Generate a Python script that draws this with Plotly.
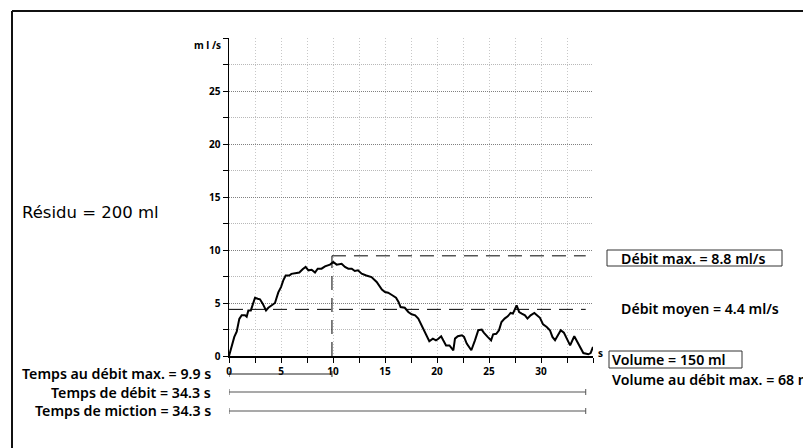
import plotly.graph_objects as go

# ---- data ----
time_s = [0, 0.26, 0.51, 0.74, 0.99, 1.22, 1.54, 1.7, 1.86, 2.1, 2.34, 2.5, 2.76, 2.98, 3.24, 3.56, 3.78, 4.1, 4.42, 4.74,
          5.0, 5.22, 5.45, 5.8, 6.0, 6.5, 6.76, 7.08, 7.37, 7.63, 7.95, 8.27, 8.53, 8.9, 9.23, 9.71, 10.03, 10.35, 10.6, 10.83,
          11.15, 11.47, 11.8, 12.1, 12.4, 12.76, 13.2, 13.7, 14.2, 14.7, 15.0, 15.3, 15.7, 16.06, 16.3, 16.5, 16.9, 17.24, 17.56, 17.9,
          18.2, 18.5, 18.75, 19.0, 19.26, 19.6, 19.9, 20.1, 20.4, 20.6, 20.87, 21.2, 21.57, 21.73, 22.0, 22.4, 22.6, 22.86, 23.3, 23.65,
          23.97, 24.3, 24.5, 24.87, 25.2, 25.4, 25.7, 25.96, 26.2, 26.5, 26.8, 27.08, 27.3, 27.66, 27.9, 28.15, 28.46, 28.7, 29.0, 29.36,
          29.7, 29.9, 30.2, 30.55, 30.86, 31.1, 31.35, 31.6, 31.9, 32.2, 32.47, 32.8, 33.2, 33.4, 33.75, 34.07, 34.55, 34.77, 35.0]
flow_mls = [0, 1.0, 1.8, 2.3, 3.5, 3.84, 3.84, 3.7, 4.3, 4.3, 5.1, 5.5, 5.4, 5.35, 4.94, 4.3, 4.55, 4.78, 5.0, 6.0,
            6.5, 7.14, 7.6, 7.6, 7.75, 7.83, 7.87, 8.18, 8.4, 8.08, 8.14, 7.87, 8.24, 8.24, 8.46, 8.62, 8.87, 8.62, 8.7, 8.7,
            8.4, 8.24, 8.24, 8.02, 8.08, 7.77, 7.6, 7.45, 6.98, 6.26, 6.04, 5.97, 5.73, 5.5, 5.1, 4.62, 4.55, 4.15, 3.93, 3.84,
            3.53, 2.9, 2.4, 1.8, 1.39, 1.64, 1.48, 1.6, 1.86, 1.48, 1.0, 1.0, 0.54, 1.64, 1.86, 1.95, 1.8, 1.17, 0.54, 1.48,
            2.43, 2.49, 2.2, 1.8, 1.48, 2.05, 2.1, 2.43, 3.2, 3.53, 3.74, 4.06, 4.0, 4.78, 4.15, 4.0, 3.84, 3.53, 3.84, 4.06,
            3.74, 3.6, 2.99, 2.74, 2.43, 1.8, 1.48, 1.86, 2.43, 2.2, 1.64, 1.0, 1.86, 1.48, 0.79, 0.28, 0.16, 0.28, 0.85]

x_ticks = [0, 5, 10, 15, 20, 25, 30]
y_ticks = [0, 5, 10, 15, 20, 25]

time_to_max = 9.9
flow_time = 34.3
voiding_time = 34.3
mean_flow = 4.4
max_marker_level = 9.45

label_max = "Débit max. = 8.8 ml/s"
label_mean = "Débit moyen = 4.4 ml/s"
label_volume = "Volume = 150 ml"
label_vol_max = "Volume au débit max. = 68 ml"
label_residu = "Résidu = 200 ml"
label_t_max = "Temps au débit max. = 9.9 s"
label_t_flow = "Temps de débit = 34.3 s"
label_t_void = "Temps de miction = 34.3 s"

FONT = "Noto Sans"
W, H = 803, 448
L, R, T, B = 229, 210, 38, 92
PW, PH = W - L - R, H - T - B


def xp(px):
    return (px - L) / PW


def yp(py):
    return (H - B - py) / PH


fig = go.Figure()
fig.add_trace(go.Scatter(x=time_s, y=flow_mls, mode="lines",
                         line=dict(color="black", width=2), hoverinfo="skip", cliponaxis=False))

shapes = []
dash = "14px,8px"
# mean flow dashed line
shapes.append(dict(type="line", xref="x", yref="y", x0=0, x1=flow_time, y0=mean_flow, y1=mean_flow,
                   line=dict(color="black", width=1, dash=dash)))
# max flow dashed markers
shapes.append(dict(type="line", xref="x", yref="y", x0=time_to_max, x1=flow_time, y0=max_marker_level, y1=max_marker_level,
                   line=dict(color="black", width=1, dash=dash)))
shapes.append(dict(type="line", xref="x", yref="y", x0=time_to_max, x1=time_to_max, y0=0, y1=max_marker_level,
                   line=dict(color="black", width=1, dash=dash)))

# time bars below axis
for val, py, col in [(time_to_max, 374, "#222"), (flow_time, 392, "#555"), (voiding_time, 411, "#555")]:
    shapes.append(dict(type="line", xref="x", yref="paper", x0=0, x1=val, y0=yp(py), y1=yp(py),
                       line=dict(color=col, width=1.2)))
    for xv in (0, val):
        shapes.append(dict(type="line", xref="x", yref="paper", x0=xv, x1=xv, y0=yp(py - 3), y1=yp(py + 3),
                           line=dict(color=col, width=1)))

# boxes on the right
shapes.append(dict(type="rect", xref="paper", yref="paper", x0=xp(607), x1=xp(782), y0=yp(266), y1=yp(250),
                   line=dict(color="#333", width=1)))
shapes.append(dict(type="rect", xref="paper", yref="paper", x0=xp(609), x1=xp(742), y0=yp(368), y1=yp(351),
                   line=dict(color="#333", width=1)))

# outer frame
shapes.append(dict(type="line", xref="paper", yref="paper", x0=xp(12), x1=xp(810), y0=yp(11), y1=yp(11),
                   line=dict(color="#111", width=2)))
shapes.append(dict(type="line", xref="paper", yref="paper", x0=xp(12), x1=xp(12), y0=yp(11), y1=yp(460),
                   line=dict(color="#111", width=2)))

ann = []
bold = dict(family=FONT, size=14.2, color="black", weight=600)
bold_left = dict(family=FONT, size=14.2, color="black", weight=600)


def add(text, px, py, xanchor="left", font=None):
    ann.append(dict(text=text, xref="paper", yref="paper", x=xp(px), y=yp(py), xanchor=xanchor, yanchor="middle",
                    showarrow=False, font=font or bold))


add(label_max, 619, 258)
add(label_mean, 619, 308)
add(label_volume, 610, 359)
add(label_vol_max, 610, 379)
add(label_t_max, 213, 373, "right", bold_left)
add(label_t_flow, 213, 392, "right", bold_left)
add(label_t_void, 213, 410, "right", bold_left)
add(label_residu, 20, 212, "left", dict(family="DejaVu Sans", size=16.5, color="black"))
add("m l /s", 223, 45, "right", dict(family=FONT, size=10, color="black", weight=700))
add("s", 596, 353, "left", dict(family=FONT, size=10, color="black", weight=700))

fig.update_layout(
    width=W, height=H, margin=dict(l=L, r=R, t=T, b=B, pad=0),
    paper_bgcolor="white", plot_bgcolor="white", showlegend=False,
    shapes=shapes, annotations=ann,
    xaxis=dict(range=[0, 35], tickvals=x_ticks, ticks="outside", ticklen=5, tickwidth=1, tickcolor="black",
               showline=True, linecolor="black", linewidth=1.5, zeroline=False,
               showgrid=True, gridcolor="#c8c8c8", griddash="1px,2px", gridwidth=1,
               minor=dict(dtick=2.5, tick0=0, ticks="outside", ticklen=5, tickcolor="black", showgrid=True,
                          gridcolor="#c8c8c8", griddash="1px,2px"),
               tickfont=dict(family=FONT, size=10, color="black", weight=700), fixedrange=True),
    yaxis=dict(range=[0, 30], tickvals=y_ticks, ticks="outside", ticklen=5, tickwidth=1, tickcolor="black",
               showline=True, linecolor="black", linewidth=1.5, zeroline=False,
               showgrid=True, gridcolor="#808080", griddash="1px,1px", gridwidth=1,
               minor=dict(dtick=2.5, tick0=0, ticks="outside", ticklen=5, tickcolor="black", showgrid=True,
                          gridcolor="#b8b8b8", griddash="1px,1px"),
               tickfont=dict(family=FONT, size=10, color="black", weight=700), fixedrange=True),
)

fig.write_html("out.html", config={"displayModeBar": False, "staticPlot": True})
